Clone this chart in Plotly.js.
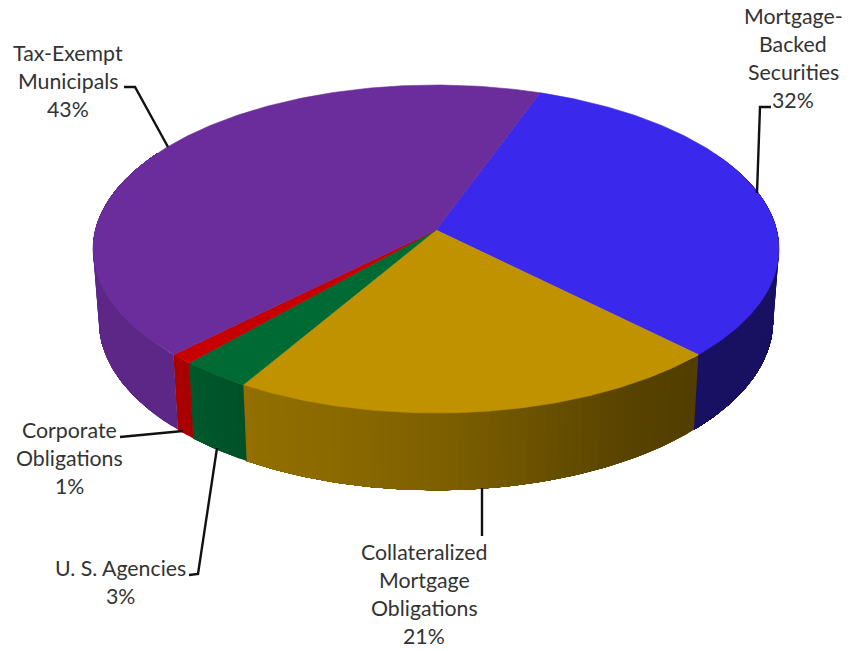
<!DOCTYPE html>
<html>
<head>
<meta charset="utf-8">
<script src="https://cdn.plot.ly/plotly-3.0.1.min.js"></script>
<style>html,body{margin:0;padding:0;background:#fff}#chart{width:862px;height:651px}</style>
</head>
<body>
<div id="chart"></div>
<script>
// Portfolio composition, in percent, listed clockwise from the first slice.
const categories = ["Mortgage-Backed Securities", "Collateralized Mortgage Obligations", "U. S. Agencies", "Corporate Obligations", "Tax-Exempt Municipals"];
const shares = [32, 21, 3, 1, 43];
const topColors = [[58, 40, 236], [192, 146, 0], [0, 106, 52], [198, 0, 0], [107, 45, 155]];
const labelLines = [["Mortgage-", "Backed", "Securities", "32%"], ["Collateralized", "Mortgage", "Obligations", "21%"], ["U. S. Agencies", "3%"], ["Corporate", "Obligations", "1%"], ["Tax-Exempt", "Municipals", "43%"]];
const labelCenterX = [793, 424, 120, 69, 68];
const labelFirstY = [16, 552, 568, 430, 53];
const leaderX = [[771, 760, 757], [482, 482], [189, 198, 217], [120, 183], [124, 135, 168]];
const leaderY = [[107, 107, 193], [536, 488], [575, 574, 448], [437, 431], [87, 87, 147]];

// Camera and disc geometry, in page pixels.
const firstAngle = 19.8, cx = 436, cy = 230, radiusX = 340.7, radiusY = 161.8, persp = 0.116;
const rimDepth = 71, rimScale = 0.983, lineHeight = 28;
// Brightness of the rim against the top face, by clockwise angle.
const shadeAngles = [60, 135, 150, 165, 180, 195, 210, 221, 225, 300];
const shadeLevels = [0.39, 0.42, 0.46, 0.56, 0.66, 0.72, 0.76, 0.83, 0.87, 0.87];

function shade(a) {
  const t = ((a % 360) + 360) % 360;
  for (let i = 1; i < shadeAngles.length; i++) {
    if (t <= shadeAngles[i]) {
      const f = (t - shadeAngles[i - 1]) / (shadeAngles[i] - shadeAngles[i - 1]);
      return shadeLevels[i - 1] + f * (shadeLevels[i] - shadeLevels[i - 1]);
    }
  }
  return shadeLevels[shadeLevels.length - 1];
}
function topPoint(a) {
  const r = a * Math.PI / 180, X = Math.sin(r), Y = Math.cos(r), w = 1 + persp * Y;
  return [cx + radiusX * X / w, cy - radiusY * Y / w];
}
function rimPoint(a) {
  const r = a * Math.PI / 180, X = Math.sin(r), Y = Math.cos(r), w = 1 + persp * Y;
  return [cx + rimScale * radiusX * X / w, cy + (rimDepth - rimScale * radiusY * Y) / w];
}
const rgb = c => "rgb(" + c.map(v => Math.round(v)).join(",") + ")";

const traces = [];
let start = firstAngle;
const spans = shares.map(v => { const s = [start, start + v * 3.6]; start = s[1]; return s; });

// Rim first, as shaded strips; each one runs to the end of its slice and the
// next strip paints over it, which leaves no seams between neighbours.
spans.forEach((s, i) => {
  const from = Math.max(s[0], 60), to = Math.min(s[1], 300);
  if (to <= from) return;
  const step = 1.5, n = Math.max(1, Math.ceil((to - from) / step));
  for (let k = 0; k < n; k++) {
    const a0 = from + (to - from) * k / n, a1 = from + (to - from) * (k + 1) / n;
    const xs = [], ys = [], top = [], rim = [];
    for (let a = a0; a < to; a += 0.75) { top.push(topPoint(a)); rim.push(rimPoint(a)); }
    top.push(topPoint(to)); rim.push(rimPoint(to));
    const p = top.concat(rim.reverse(), [top[0]]);
    const col = rgb(topColors[i].map(v => v * shade((a0 + a1) / 2)));
    traces.push({x: p.map(q => q[0]), y: p.map(q => q[1]), mode: "lines", fill: "toself", fillcolor: col,
      line: {color: col, width: 0}, hoverinfo: "skip", showlegend: false});
  }
});

// Top face of each slice.
spans.forEach((s, i) => {
  const n = Math.ceil((s[1] - s[0]) / 0.75), xs = [cx], ys = [cy];
  for (let k = 0; k <= n; k++) {
    const p = topPoint(s[0] + (s[1] - s[0]) * k / n);
    xs.push(p[0]); ys.push(p[1]);
  }
  xs.push(cx); ys.push(cy);
  traces.push({x: xs, y: ys, mode: "lines", fill: "toself", fillcolor: rgb(topColors[i]),
    line: {color: rgb(topColors[i]), width: 0.6}, name: categories[i], text: shares[i] + "%",
    hoverinfo: "name+text", showlegend: false});
});

// Leader lines from each label to its slice.
leaderX.forEach((xs, i) => traces.push({x: xs, y: leaderY[i], mode: "lines",
  line: {color: "#111111", width: 2.4}, hoverinfo: "skip", showlegend: false}));

// Category labels, one text item per line.
const annotations = [];
labelLines.forEach((lines, i) => lines.forEach((t, j) => annotations.push({
  x: labelCenterX[i], y: labelFirstY[i] + j * lineHeight, xref: "x", yref: "y", text: t, showarrow: false,
  xanchor: "center", yanchor: "middle", font: {family: "Lato, 'Open Sans', sans-serif", size: 21.3, color: "#333333"}
})));

Plotly.newPlot("chart", traces, {
  width: 862, height: 651, margin: {l: 0, r: 0, t: 0, b: 0},
  paper_bgcolor: "#ffffff", plot_bgcolor: "#ffffff", showlegend: false,
  xaxis: {range: [0, 862], visible: false, fixedrange: true},
  yaxis: {range: [651, 0], visible: false, fixedrange: true},
  annotations: annotations
}, {displayModeBar: false});
</script>
</body>
</html>
